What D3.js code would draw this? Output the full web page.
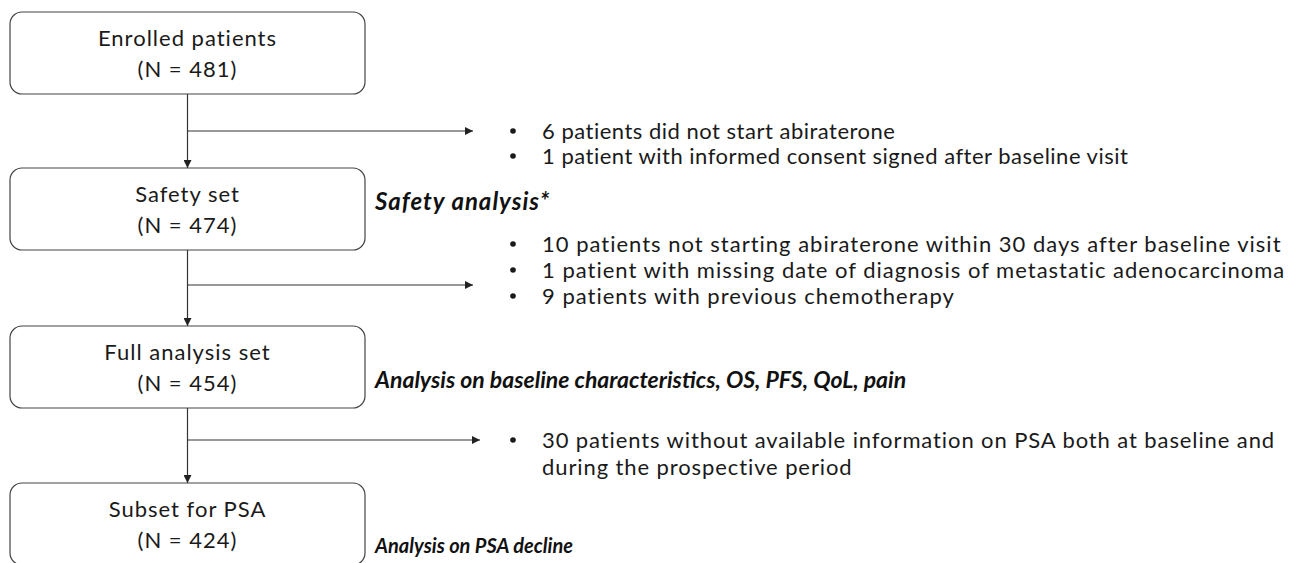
<!DOCTYPE html>
<html>
<head>
<meta charset="utf-8">
<script src="https://cdn.jsdelivr.net/npm/d3@7"></script>
<style>
html,body{margin:0;padding:0;background:#fff;}
svg{display:block;}
</style>
</head>
<body>
<svg id="chart" width="1301" height="563"></svg>
<script>
// ---- data ----
const stageLabels = ["Enrolled patients", "Safety set", "Full analysis set", "Subset for PSA"];
const stageCounts = [481, 474, 454, 424];
const exclusionNotes = [
  ["6 patients did not start abiraterone",
   "1 patient with informed consent signed after baseline visit"],
  ["10 patients not starting abiraterone within 30 days after baseline visit",
   "1 patient with missing date of diagnosis of metastatic adenocarcinoma",
   "9 patients with previous chemotherapy"],
  ["30 patients without available information on PSA both at baseline and",
   "during the prospective period"]
];
const exclusionBullets = [[true, true], [true, true, true], [true, false]];
const analysisLabels = ["", "Safety analysis*", "Analysis on baseline characteristics, OS, PFS, QoL, pain", "Analysis on PSA decline"];

// ---- layout ----
const svg = d3.select("#chart");
const FONT = "Lato, 'Open Sans', sans-serif";
const boxTop = d3.scaleOrdinal().domain(d3.range(4)).range([12, 168, 326, 483]);
const boxH = 82, boxX = 10, boxW = 355;
const cx = boxX + boxW / 2;
const branchY = [131, 285, 440];
const branchEnd = [473, 473, 480];
const noteY = [131, 244, 440];
const noteStep = [25, 26, 27];
const noteSpacing = [0.5, 1.0, 0.9];
const analysisY = [0, 202, 380, 546];
const analysisSize = [0, 24, 23, 20];
const analysisSpacing = [0, 1, 0, 0];
const textCol = "#1a1a1a";

const defs = svg.append("defs");
defs.append("marker").attr("id", "arr").attr("viewBox", "0 0 10 10")
  .attr("refX", 10).attr("refY", 5).attr("markerWidth", 9).attr("markerHeight", 8)
  .attr("markerUnits", "userSpaceOnUse").attr("orient", "auto")
  .append("path").attr("d", "M0,0L10,5L0,10Z").attr("fill", "#222");

const lineCol = "#333";

// connectors
d3.range(3).forEach(i => {
  svg.append("line").attr("x1", cx).attr("x2", cx)
    .attr("y1", boxTop(i) + boxH).attr("y2", boxTop(i + 1))
    .attr("stroke", lineCol).attr("stroke-width", 1.2).attr("marker-end", "url(#arr)");
  svg.append("line").attr("x1", cx).attr("x2", branchEnd[i])
    .attr("y1", branchY[i]).attr("y2", branchY[i])
    .attr("stroke", lineCol).attr("stroke-width", 1.2).attr("marker-end", "url(#arr)");
});

// boxes
const g = svg.selectAll("g.stage").data(stageLabels).join("g").attr("class", "stage");
g.append("rect").attr("x", boxX).attr("y", (d, i) => boxTop(i)).attr("width", boxW).attr("height", boxH)
  .attr("rx", 12).attr("ry", 12).attr("fill", "#fff").attr("stroke", "#444").attr("stroke-width", 1.2);
g.append("text").attr("x", cx).attr("y", (d, i) => boxTop(i) + 26).attr("dy", "0.35em")
  .attr("text-anchor", "middle").attr("font-family", FONT).attr("font-size", 22)
  .attr("letter-spacing", 1).attr("fill", textCol)
  .text(d => d);
g.append("text").attr("x", cx).attr("y", (d, i) => boxTop(i) + 57).attr("dy", "0.35em")
  .attr("text-anchor", "middle").attr("font-family", FONT).attr("font-size", 22)
  .attr("letter-spacing", 1).attr("fill", textCol)
  .text((d, i) => `(N = ${stageCounts[i]})`);

// exclusion notes
exclusionNotes.forEach((lines, gi) => {
  lines.forEach((t, li) => {
    const y = noteY[gi] + li * noteStep[gi];
    if (exclusionBullets[gi][li]) {
      svg.append("circle").attr("cx", 513).attr("cy", y).attr("r", 2.8).attr("fill", textCol);
    }
    svg.append("text").attr("x", 542).attr("y", y).attr("dy", "0.35em")
      .attr("font-family", FONT).attr("font-size", 22).attr("letter-spacing", noteSpacing[gi])
      .attr("fill", textCol).text(t);
  });
});

// analysis labels
analysisLabels.forEach((t, i) => {
  if (!t) return;
  svg.append("text").attr("x", 375).attr("y", analysisY[i]).attr("dy", "0.35em")
    .attr("font-family", FONT).attr("font-size", analysisSize[i]).attr("letter-spacing", analysisSpacing[i])
    .attr("font-weight", "bold").attr("font-style", "italic")
    .attr("fill", "#111").text(t);
});
</script>
</body>
</html>
